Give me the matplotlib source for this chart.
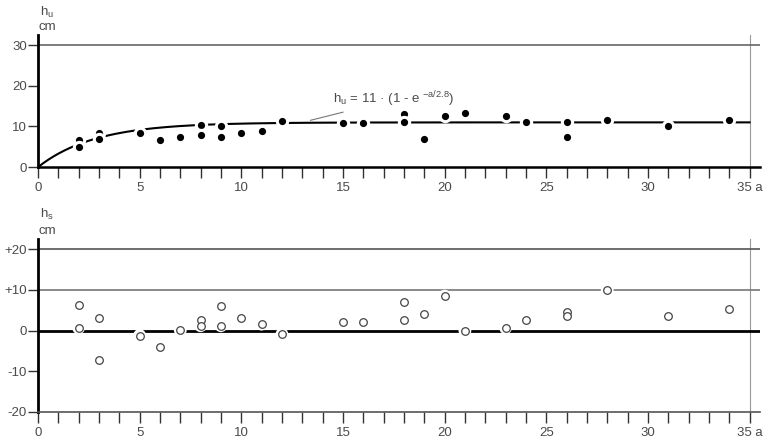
import numpy as np
import matplotlib
matplotlib.use("Agg")
import matplotlib.pyplot as plt

plt.rcParams['font.family'] = ['Liberation Sans', 'DejaVu Sans']
plt.rcParams['mathtext.fontset'] = 'custom'
plt.rcParams['mathtext.rm'] = 'Liberation Sans'
plt.rcParams['mathtext.it'] = 'Liberation Sans'

# upper panel: h_u measurements (cm) against age a (years)
years_u = [2, 2, 3, 3, 5, 6, 7, 8, 8, 9, 9, 10, 11, 12, 15, 16,
           18, 18, 19, 20, 21, 23, 24, 26, 26, 28, 31, 34]
hu = [6.6, 4.9, 8.4, 7.0, 8.4, 6.6, 7.5, 10.4, 8.0, 10.1, 7.5, 8.4, 9.0, 11.3, 10.9, 10.9,
      13.1, 11.1, 7.0, 12.5, 13.2, 12.5, 11.1, 11.1, 7.5, 11.6, 10.0, 11.5]

# lower panel: h_s residuals (cm)
years_s = [2, 2, 3, 3, 5, 6, 7, 8, 8, 9, 9, 10, 11, 12, 15, 16,
           18, 18, 19, 20, 21, 23, 24, 26, 26, 28, 31, 34]
hs = [6.2, 0.7, 3.1, -7.3, -1.2, -4.0, 0.1, 2.6, 1.2, 6.1, 1.2, 3.1, 1.6, -0.9, 2.0, 2.1,
      7.0, 2.6, 4.0, 8.5, 0.0, 0.7, 2.6, 4.5, 3.6, 10.0, 3.5, 5.4]

hu_max = 11
tau = 2.8
xticks = [0, 5, 10, 15, 20, 25, 30, 35]
xlabels = ['0', '5', '10', '15', '20', '25', '30', '35 a']

txt = '#4a4a4a'
fig = plt.figure(figsize=(7.67, 4.41), dpi=100)
ax1 = fig.add_axes([0.0495, 0.621, 0.941, 0.299])
ax2 = fig.add_axes([0.0495, 0.0658, 0.941, 0.392])

for ax in (ax1, ax2):
    ax.set_xlim(0, 35.5)
    for s in ('top', 'right'):
        ax.spines[s].set_visible(False)
    ax.spines['left'].set_linewidth(2.0)
    ax.set_xticks(xticks)
    ax.set_xticklabels(xlabels)
    ax.set_xticks(np.arange(0, 36), minor=True)
    ax.tick_params(axis='x', which='both', direction='out', length=8, width=1,
                   color='#333333', labelcolor=txt, labelsize=9.5, pad=3)
    ax.tick_params(axis='y', direction='out', length=7, width=1,
                   color='#333333', labelcolor=txt, labelsize=9.5, pad=1)
    ax.axvline(35, color='#999999', lw=0.8, zorder=1)

# upper panel
ax1.set_ylim(0, 32.4)
ax1.set_yticks([0, 10, 20, 30])
ax1.spines['bottom'].set_linewidth(1.8)
ax1.axhline(30, color='#666666', lw=1.2, zorder=1)
a = np.linspace(0, 35, 400)
ax1.plot(a, hu_max * (1 - np.exp(-a / tau)), color='black', lw=1.5, zorder=2)
ax1.scatter(years_u, hu, s=55, c='black', edgecolors='white', linewidths=2.2, zorder=3,
            clip_on=False)
ax1.annotate(r'h$_{\rm u}$ = 11 · (1 - e $^{-a/2.8}$)', xy=(13.4, 11.5), xytext=(14.5, 15.6),
             fontsize=9.5, color=txt,
             arrowprops=dict(arrowstyle='-', color='#777777', lw=0.8, shrinkA=0, shrinkB=0))

# lower panel
ax2.set_ylim(-20, 22.5)
ax2.set_yticks([-20, -10, 0, 10, 20])
ax2.set_yticklabels(['-20', '-10', '0', '+10', '+20'])
ax2.spines['bottom'].set_linewidth(1.2)
ax2.spines['bottom'].set_color('#555555')
ax2.axhline(20, color='#555555', lw=1.2, zorder=1)
ax2.axhline(10, color='#777777', lw=1.2, zorder=1)
ax2.axhline(0, color='black', lw=2.0, zorder=1)
ax2.scatter(years_s, hs, s=85, c='white', edgecolors='none', zorder=3)
ax2.scatter(years_s, hs, s=30, facecolors='white', edgecolors='#444444', linewidths=0.9,
            zorder=4)

fig.text(0.052, 0.972, r'h$_{\rm u}$', fontsize=9.5, color=txt, va='center')
fig.text(0.050, 0.938, 'cm', fontsize=9.5, color=txt, va='center')
fig.text(0.052, 0.513, r'h$_{\rm s}$', fontsize=9.5, color=txt, va='center')
fig.text(0.050, 0.477, 'cm', fontsize=9.5, color=txt, va='center')

fig.savefig('out.png', dpi=100, facecolor='white')
